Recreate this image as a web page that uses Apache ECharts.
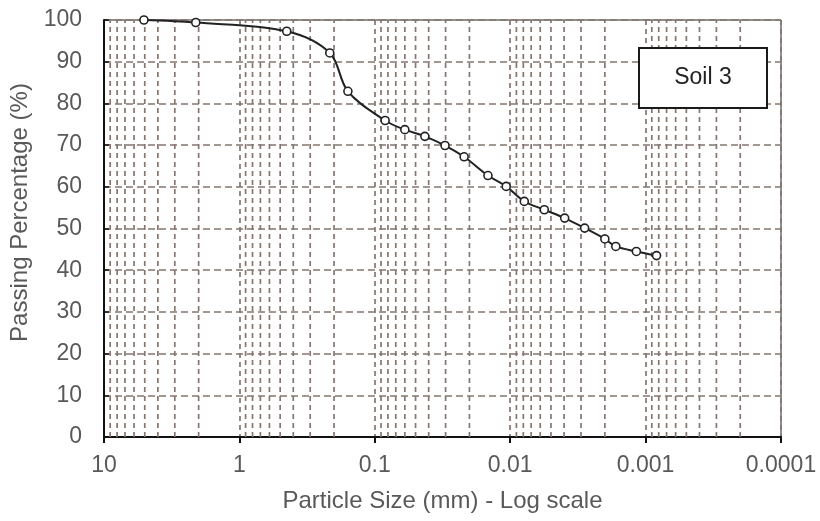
<!DOCTYPE html>
<html>
<head>
<meta charset="utf-8">
<script src="https://cdn.jsdelivr.net/npm/echarts@6/dist/echarts.min.js"></script>
<style>
html,body{margin:0;padding:0;background:#fff;}
#chart{width:820px;height:521px;}
</style>
</head>
<body>
<div id="chart"></div>
<script>
// Particle size (mm)
var particleSize = [5.07, 2.10, 0.447, 0.215, 0.158, 0.0839, 0.060, 0.0427, 0.0303, 0.0219, 0.0146, 0.0107, 0.00787, 0.0056, 0.00396, 0.00282, 0.0020, 0.00166, 0.00117, 0.00083];
// Passing percentage (%)
var passing = [100, 99.4, 97.3, 92.1, 82.9, 75.9, 73.7, 72.1, 69.9, 67.2, 62.7, 60.1, 56.5, 54.5, 52.5, 50.1, 47.5, 45.7, 44.5, 43.5];
var seriesName = 'Soil 3';
var xTickLabels = ['10', '1', '0.1', '0.01', '0.001', '0.0001'];
var xTickValues = [10, 1, 0.1, 0.01, 0.001, 0.0001];
var minorMultipliers = [2, 3, 4, 5, 6, 7, 8, 9];
var decadeStarts = [1, 0.1, 0.01, 0.001, 0.0001];
var yRange = [0, 100];

var FONT = '"Liberation Sans", Arial, sans-serif';
var GRIDC = '#85766f';

// minor vertical grid lines (2..9 within each decade), drawn as broken line segments
var minorGridData = [];
decadeStarts.forEach(function (d) {
  minorMultipliers.forEach(function (m) {
    var v = +(d * m).toPrecision(6);
    minorGridData.push([v, yRange[0]], [v, yRange[1]], [v, '-']);
  });
});

var seriesData = particleSize.map(function (s, i) { return [s, passing[i]]; });

function fmtX(v) {
  var best = 0, bd = Infinity;
  for (var i = 0; i < xTickValues.length; i++) {
    var d = Math.abs(Math.log10(v) - Math.log10(xTickValues[i]));
    if (d < bd) { bd = d; best = i; }
  }
  return xTickLabels[best];
}

var chart = echarts.init(document.getElementById('chart'), null, {renderer: 'canvas'});
chart.setOption({
  backgroundColor: '#fff',
  animation: false,
  grid: {left: 104, right: 39, top: 20, bottom: 84, show: true, borderColor: '#222', borderWidth: 1, backgroundColor: 'transparent'},
  xAxis: {
    type: 'log', logBase: 10, min: 0.0001, max: 10, inverse: true, interval: 1,
    name: 'Particle Size (mm) - Log scale', nameLocation: 'middle', nameGap: 52,
    nameTextStyle: {fontFamily: FONT, fontSize: 24, color: '#595959'},
    axisLine: {show: true, lineStyle: {color: '#111', width: 2}},
    axisTick: {show: true, inside: false, length: 6, lineStyle: {color: '#111', width: 2}},
    axisLabel: {fontFamily: FONT, fontSize: 23, color: '#595959', margin: 17, formatter: fmtX},
    splitLine: {show: true, lineStyle: {color: GRIDC, width: 1.7, type: [5, 4]}}
  },
  yAxis: {
    type: 'value', min: yRange[0], max: yRange[1], interval: 10,
    name: 'Passing Percentage (%)', nameLocation: 'middle', nameGap: 64,
    nameTextStyle: {fontFamily: FONT, fontSize: 24, color: '#595959', padding: [0, 0, 0, 32]},
    axisLine: {show: true, lineStyle: {color: '#111', width: 2}},
    axisTick: {show: true, inside: true, length: 5, lineStyle: {color: '#111', width: 1.5}},
    axisLabel: {fontFamily: FONT, fontSize: 23, color: '#595959', margin: 22},
    splitLine: {show: true, lineStyle: {color: GRIDC, width: 1.7, type: [7, 4]}}
  },
  series: [
    {
      name: 'minorGrid', type: 'line', data: minorGridData, silent: true,
      symbol: 'none', connectNulls: false, z: 1,
      lineStyle: {color: GRIDC, width: 1.7, type: [5, 4]},
      emphasis: {disabled: true}, tooltip: {show: false}
    },
    {
      name: seriesName, type: 'line', data: seriesData, smooth: 0.35,
      symbol: 'circle', symbolSize: 8, showAllSymbol: true, z: 5,
      lineStyle: {color: '#222', width: 2},
      itemStyle: {color: '#fff', borderColor: '#222', borderWidth: 1.6}
    }
  ],
  graphic: [
    {type: 'rect', shape: {x: 639, y: 48, width: 128, height: 60}, z: 100,
     style: {fill: '#fff', stroke: '#1a1a1a', lineWidth: 2}},
    {type: 'text', x: 703, y: 78, z: 101,
     style: {text: seriesName, fontFamily: FONT, fontSize: 23, fill: '#222', align: 'center', verticalAlign: 'middle'}}
  ]
});
</script>
</body>
</html>
